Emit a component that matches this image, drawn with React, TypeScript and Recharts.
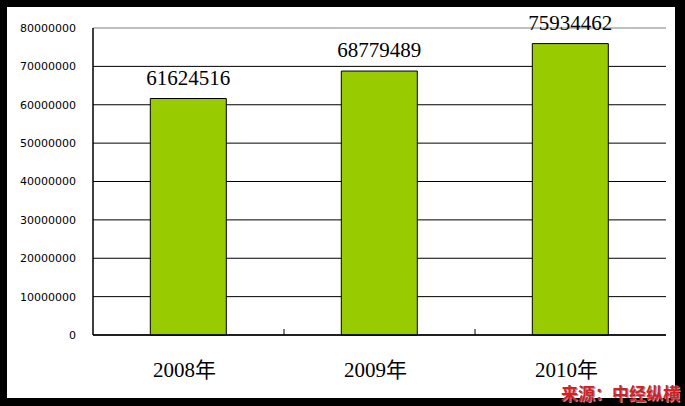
import React from 'react';
import { BarChart, Bar, XAxis, YAxis, CartesianGrid, LabelList, ReferenceLine } from 'recharts';

const years = ['2008年', '2009年', '2010年'];
const values = [61624516, 68779489, 75934462];
const yTicks = [0, 10000000, 20000000, 30000000, 40000000, 50000000, 60000000, 70000000, 80000000];
const gridValues = yTicks.slice(0, -1);
const source = '来源：中经纵横';

const data = years.map((year, i) => ({ year, value: values[i] }));

const serif = '"Liberation Serif", "Noto Sans CJK SC", serif';
const AXIS_Y = 335;

// category label plus the small divider tick between categories
function YearTick(props: any) {
  const { x, y, payload, index } = props;
  const half = payload && payload.offset ? payload.offset : 0;
  return (
    <g>
      {index < years.length - 1 && half > 0 && (
        <line x1={x + half} x2={x + half} y1={AXIS_Y} y2={AXIS_Y - 6} stroke="#000" />
      )}
      <text
        x={x - 4}
        y={y + 15}
        textAnchor="middle"
        fontFamily={serif}
        fontSize={21}
        fill="#000"
      >
        {payload.value}
      </text>
    </g>
  );
}

export default function App() {
  return (
    <div style={{ position: 'absolute', left: 0, top: 0, width: 685, height: 406, background: '#000' }}>
      <div style={{ position: 'absolute', left: 7, top: 7, width: 668, height: 391, background: '#fff' }} />
      <div style={{ position: 'absolute', left: 0, top: 0 }}>
        <BarChart
          width={685}
          height={406}
          data={data}
          margin={{ top: 28, right: 19, left: 0, bottom: 0 }}
          barCategoryGap="30%"
        >
          <CartesianGrid vertical={false} stroke="#000" strokeWidth={1} horizontalValues={gridValues} />
          <ReferenceLine y={80000000} stroke="#808080" />
          <XAxis
            dataKey="year"
            height={71}
            axisLine={{ stroke: '#000', strokeWidth: 1.5 }}
            tickLine={false}
            tickSize={0}
            tickMargin={27}
            tick={<YearTick />}
          />
          <YAxis
            width={93}
            domain={[0, 80000000]}
            ticks={yTicks}
            interval={0}
            axisLine={{ stroke: '#000', strokeWidth: 1.5 }}
            tickLine={false}
            tickSize={0}
            tickMargin={17}
            tick={{ fontFamily: '"DejaVu Sans", sans-serif', fontSize: 11, fill: '#000' }}
          />
          <YAxis
            yAxisId="r"
            orientation="right"
            width={0}
            domain={[0, 80000000]}
            tick={false}
            tickLine={false}
            axisLine={{ stroke: '#808080' }}
          />
          <Bar dataKey="value" fill="#99CC00" stroke="#000" strokeWidth={1} isAnimationActive={false}>
            <LabelList
              dataKey="value"
              position="top"
              offset={14}
              style={{ fontFamily: serif, fontSize: 21, fill: '#000' }}
            />
          </Bar>
        </BarChart>
      </div>
      <div
        style={{
          position: 'absolute',
          left: 561,
          top: 382,
          fontFamily: '"Noto Sans CJK SC", sans-serif',
          fontWeight: 'bold',
          fontSize: 17,
          lineHeight: '22px',
          color: '#d42027',
          textShadow: '1px 1px 0 #999',
          whiteSpace: 'nowrap',
        }}
      >
        {source}
      </div>
    </div>
  );
}
